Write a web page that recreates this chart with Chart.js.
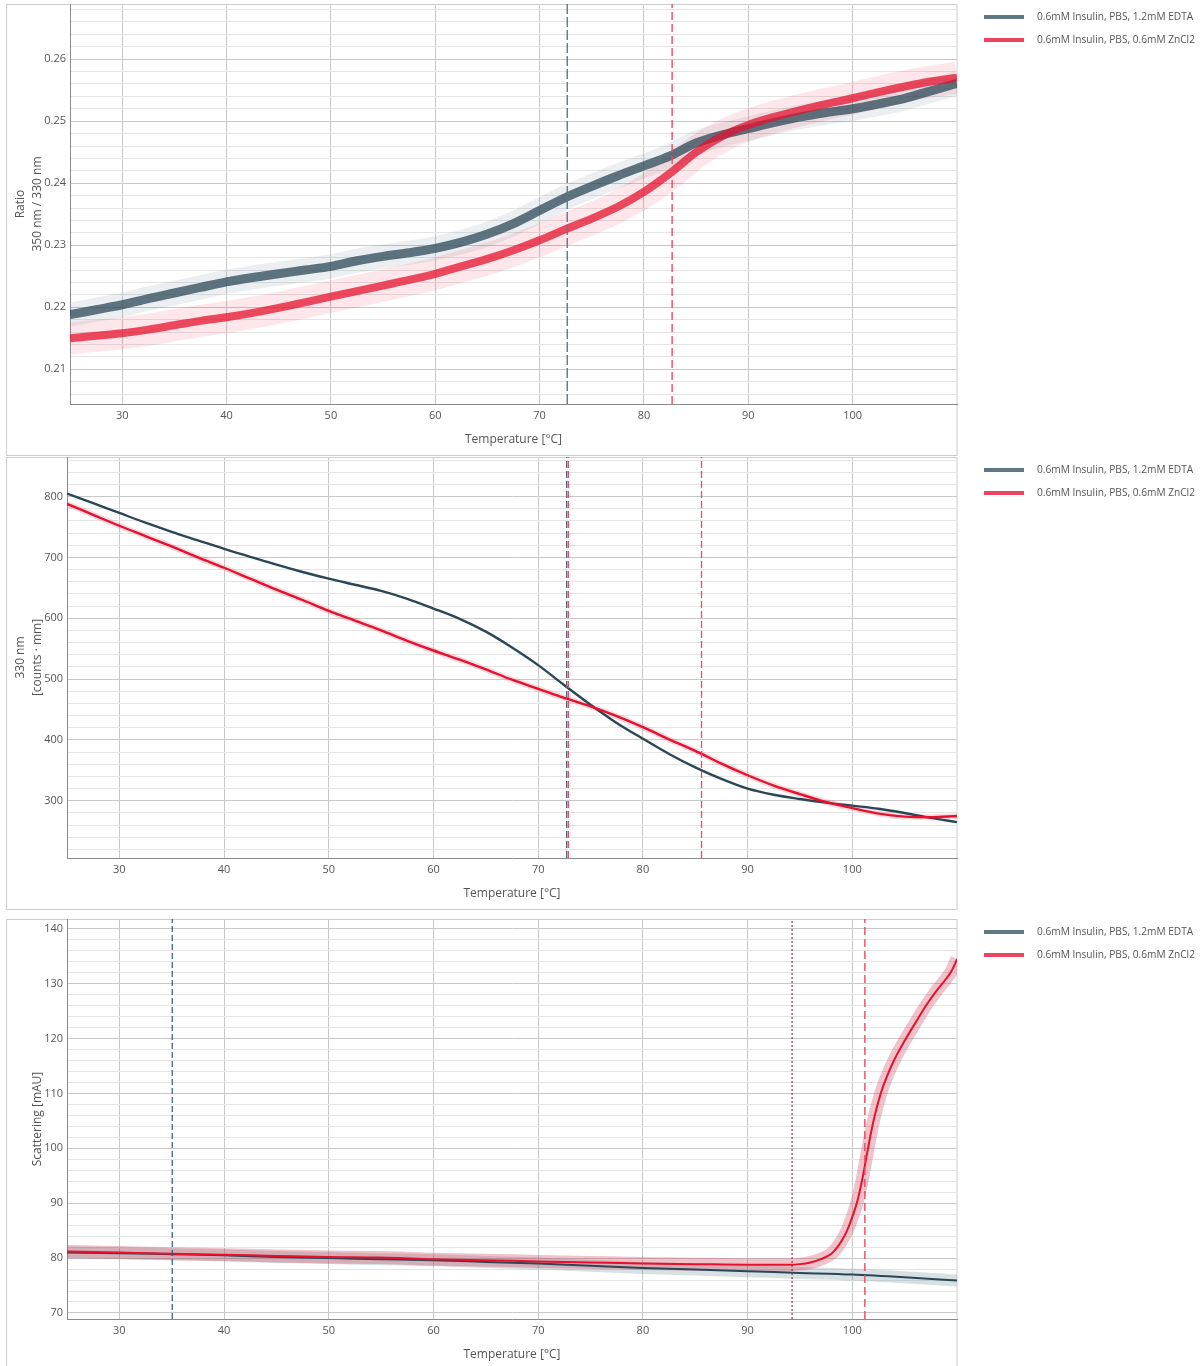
<!DOCTYPE html>
<html><head><meta charset="utf-8">
<script src="https://cdn.jsdelivr.net/npm/chart.js@4.4.1/dist/chart.umd.min.js"></script>
<style>
html,body{margin:0;padding:0;background:#fff;overflow:hidden;width:1203px;height:1366px;}
.panel{position:absolute;left:0;width:1203px;height:457px;}
</style></head><body>
<div class="panel" style="top:0px"><canvas id="c1"></canvas></div>
<div class="panel" style="top:455px"><canvas id="c2"></canvas></div>
<div class="panel" style="top:915px"><canvas id="c3"></canvas></div>
<script>
// ---------- data ----------
const seriesNames = ['0.6mM Insulin, PBS, 1.2mM EDTA', '0.6mM Insulin, PBS, 0.6mM ZnCl2'];
const xTicks = [30, 40, 50, 60, 70, 80, 90, 100];

// Panel 1 : Ratio 350/330
const tempRatio = [25,27.5,30,32.5,35,37.5,40,42.5,45,47.5,50,52.5,55,57.5,60,62.5,65,67.5,70,72.5,75,77.5,80,82.5,85,87.5,90,92.5,95,97.5,100,102.5,105,107.5,110];
const ratioEDTA = [0.2188,0.2196,0.2204,0.2214,0.2223,0.2232,0.2241,0.2248,0.2254,0.2260,0.2266,0.2275,0.2282,0.2288,0.2295,0.2305,0.2318,0.2335,0.2356,0.2377,0.2395,0.2412,0.2428,0.2444,0.2465,0.2478,0.2488,0.2498,0.2507,0.2514,0.2520,0.2528,0.2537,0.2549,0.2561];
const ratioZn   = [0.2150,0.2154,0.2158,0.2164,0.2171,0.2178,0.2184,0.2191,0.2199,0.2208,0.2217,0.2226,0.2235,0.2244,0.2254,0.2266,0.2278,0.2292,0.2308,0.2326,0.2343,0.2362,0.2386,0.2416,0.2450,0.2476,0.2494,0.2507,0.2518,0.2528,0.2537,0.2547,0.2556,0.2564,0.2570];
const ratioTicks = [0.21, 0.22, 0.23, 0.24, 0.25, 0.26];
const ratioMarkEDTA = 72.65;
const ratioMarkZn = 82.7;

// Panel 2 : 330 nm
const temp330 = [25,27.5,30,32.5,35,37.5,40,42.5,45,47.5,50,52.5,55,57.5,60,62.5,65,67.5,70,72.5,75,77.5,80,82.5,85,87.5,90,92.5,95,97.5,100,102.5,105,107.5,110];
const f330EDTA = [805,789,773,757,742,728,714,701,688,676,665,655,645,632,616,599,578,552,523,490,458,428,402,377,355,336,320,310,303,297,292,287,280,272,265];
const f330Zn   = [788,770,752,735,718,700,683,665,647,630,612,596,580,563,547,532,516,499,484,469,455,439,421,401,382,361,342,325,311,298,288,279,274,273,275];
const f330Ticks = [300, 400, 500, 600, 700, 800];
const f330MarkEDTA = 72.72;
const f330MarkZn = [72.88, 85.6];

// Panel 3 : Scattering
const tempScatEDTA = [25,30,35,40,45,50,55,60,65,70,75,80,85,90,95,100,105,110];
const scatEDTA = [81.0,80.9,80.7,80.5,80.2,80.0,79.8,79.6,79.3,79.0,78.6,78.2,77.9,77.6,77.3,77.0,76.5,75.9];
const tempScatZn = [25,30,35,40,45,50,55,60,65,70,75,80,85,90,92,94,95,96,97,98,98.5,99,99.5,100,100.5,101,101.5,102,102.5,103,103.5,104,105,106,107,108,109,109.5,110];
const scatZn = [81.2,81.0,80.8,80.6,80.4,80.2,80.1,79.8,79.6,79.4,79.2,79.0,78.9,78.8,78.8,78.8,78.9,79.2,79.8,80.8,81.8,83.2,85.0,87.5,90.5,94.8,100.0,104.8,108.6,111.6,114.0,116.1,119.6,122.8,125.9,128.6,131.0,132.4,134.5];
const scatTicks = [70, 80, 90, 100, 110, 120, 130, 140];
const scatMarkEDTA = 35.05;
const scatMarkOnset = 94.25;
const scatMarkZn = 101.2;

// ---------- styling / helpers ----------
const DARK = '#2b4756', RED = '#e8112d';
const legendColors = ['#5f7884', '#ee4660'];
const FONT = '"Open Sans", "Noto Sans", sans-serif';
Chart.defaults.font.family = FONT;
Chart.defaults.font.size = 11;
Chart.defaults.color = '#555';

const pts = (xs, ys) => xs.map((x, i) => ({x, y: ys[i]}));

const framePlugin = {
  id: 'frameLegend',
  beforeDraw(chart, args, opts) {
    const {ctx, chartArea} = chart;
    ctx.save();
    ctx.strokeStyle = '#cdcdcd';
    ctx.lineWidth = 1;
    ctx.strokeRect(6.5, chartArea.top + 0.5, chartArea.right - 6.5, opts.boxBottom - chartArea.top);
    ctx.restore();
  },
  afterDraw(chart, args, opts) {
    const {ctx, chartArea} = chart;
    ctx.save();
    ctx.font = '11px ' + FONT;
    const widest = Math.max(...seriesNames.map(n => ctx.measureText(n).width));
    const size = Math.min(11, 11 * 158 / widest);
    ctx.font = size.toFixed(2) + 'px ' + FONT;
    seriesNames.forEach((name, i) => {
      const y = Math.round(chartArea.top + 13 + i * 23);
      ctx.strokeStyle = legendColors[i];
      ctx.lineWidth = 4;
      ctx.beginPath();
      ctx.moveTo(chartArea.right + 27, y);
      ctx.lineTo(chartArea.right + 67, y);
      ctx.stroke();
      ctx.fillStyle = '#555';
      ctx.textBaseline = 'middle';
      ctx.fillText(name, chartArea.right + 80, y);
    });
    ctx.restore();
  }
};

function line(data, color, width, order, extra) {
  return Object.assign({type: 'line', data, borderColor: color, borderWidth: width, pointRadius: 0,
    cubicInterpolationMode: 'monotone', fill: false, order}, extra || {});
}
function marker(x, ymin, ymax, color, dash, width) {
  return {type: 'line', data: [{x, y: ymin}, {x, y: ymax}], borderColor: color, borderWidth: width || 1.3,
    borderDash: dash, pointRadius: 0, fill: false, order: 0};
}

function xScale() {
  return {
    type: 'linear', min: 25, max: 110,
    afterBuildTicks: s => { s.ticks = xTicks.map(v => ({value: v})); },
    ticks: {padding: 5, color: '#555', autoSkip: false},
    grid: {drawTicks: false, color: '#c8c8c8'},
    border: {color: '#8a8a8a'},
    title: {display: true, text: 'Temperature [°C]', color: '#555', font: {size: 12, lineHeight: 1.4}, padding: {top: 0, bottom: 8}},
    afterFit: s => { s.height = 52; s.paddingLeft = 0; s.paddingRight = 0; }
  };
}
function yScale(min, max, majors, minorList, fmt, title, padTop, width) {
  const isMajor = v => majors.some(t => Math.abs(t - v) < 1e-7);
  return {
    type: 'linear', min, max,
    afterBuildTicks: s => { s.ticks = minorList.map(v => ({value: v})); },
    ticks: {autoSkip: false, padding: 4, color: '#555', callback: v => isMajor(v) ? fmt(v) : ''},
    grid: {drawTicks: false, color: c => (c.tick && isMajor(c.tick.value)) ? '#c8c8c8' : '#e4e4e4'},
    border: {color: '#8a8a8a'},
    title: {display: true, text: title, color: '#555', font: {size: 12, lineHeight: 1.4}, padding: {top: padTop, bottom: 0}},
    afterFit: s => { s.width = width; s.paddingTop = 0; s.paddingBottom = 0; }
  };
}
function baseOptions(scales, padTop, padBottom, padLeft, boxBottom) {
  return {
    responsive: true, maintainAspectRatio: false, animation: false,
    layout: {padding: {top: padTop, bottom: padBottom, left: padLeft, right: 246}},
    plugins: {legend: {display: false}, tooltip: {enabled: false}, frameLegend: {boxBottom}},
    scales
  };
}
function range(a, b, step) { const r = []; for (let k = a; k <= b; k += step) r.push(k); return r; }

// ---------- Panel 1 ----------
const r1min = 0.2044, r1max = 0.2689;
new Chart(document.getElementById('c1'), {
  type: 'line',
  data: {datasets: [
    line(pts(tempRatio, ratioEDTA), 'rgba(90,125,140,0.12)', 24, 10),
    line(pts(tempRatio, ratioZn), 'rgba(232,17,45,0.10)', 32, 9),
    line(pts(tempRatio, ratioEDTA), 'rgba(43,71,86,0.74)', 9, 5),
    line(pts(tempRatio, ratioZn), 'rgba(228,16,44,0.74)', 8, 4),
    marker(ratioMarkEDTA, r1min, r1max, '#5f7884', [10, 3], 1.4),
    marker(ratioMarkZn, r1min, r1max, '#ec4a62', [8, 4], 1.4)
  ]},
  options: baseOptions({
    x: xScale(),
    y: yScale(r1min, r1max, ratioTicks, range(103, 134, 1).map(k => +(k * 0.002).toFixed(3)), v => v.toFixed(2), ['Ratio', '350 nm / 330 nm'], 6, 64)
  }, 4, 1, 6, 455),
  plugins: [framePlugin]
});

// ---------- Panel 2 ----------
const r2min = 206, r2max = 865;
new Chart(document.getElementById('c2'), {
  type: 'line',
  data: {datasets: [
    line(pts(temp330, f330Zn), 'rgba(232,17,45,0.15)', 6, 9),
    line(pts(temp330, f330EDTA), DARK, 2.4, 5),
    line(pts(temp330, f330Zn), RED, 2.4, 4),
    marker(f330MarkEDTA, r2min, r2max, '#4f6a78', [7, 3], 1.3),
    marker(f330MarkZn[0], r2min, r2max, '#ec4a62', [7, 3], 1.3),
    marker(f330MarkZn[1], r2min, r2max, '#ec4a62', [7, 3], 1.3)
  ]},
  options: baseOptions({
    x: xScale(),
    y: yScale(r2min, r2max, f330Ticks, range(220, 860, 20), v => String(v), ['330 nm', '[counts · mm]'], 6, 61)
  }, 2, 2, 6, 454),
  plugins: [framePlugin]
});

// ---------- Panel 3 ----------
const r3min = 68.9, r3max = 141.8;
new Chart(document.getElementById('c3'), {
  type: 'line',
  data: {datasets: [
    line(pts(tempScatEDTA, scatEDTA), 'rgba(110,145,155,0.28)', 12, 10),
    line(pts(tempScatZn, scatZn), 'rgba(210,70,95,0.33)', 13, 9),
    line(pts(tempScatEDTA, scatEDTA), DARK, 2, 5),
    line(pts(tempScatZn, scatZn), RED, 2, 4),
    marker(scatMarkEDTA, r3min, r3max, '#2b5a70', [6, 3], 1.2),
    marker(scatMarkOnset, r3min, r3max, '#7a2a33', [2, 2], 1.1),
    marker(scatMarkZn, r3min, r3max, '#ec4a62', [8, 4], 1.4)
  ]},
  options: baseOptions({
    x: xScale(),
    y: yScale(r3min, r3max, scatTicks, range(70, 140, 2), v => String(v), 'Scattering [mAU]', 23, 61)
  }, 4, 1, 6, 460),
  plugins: [framePlugin]
});
</script>
</body></html>
